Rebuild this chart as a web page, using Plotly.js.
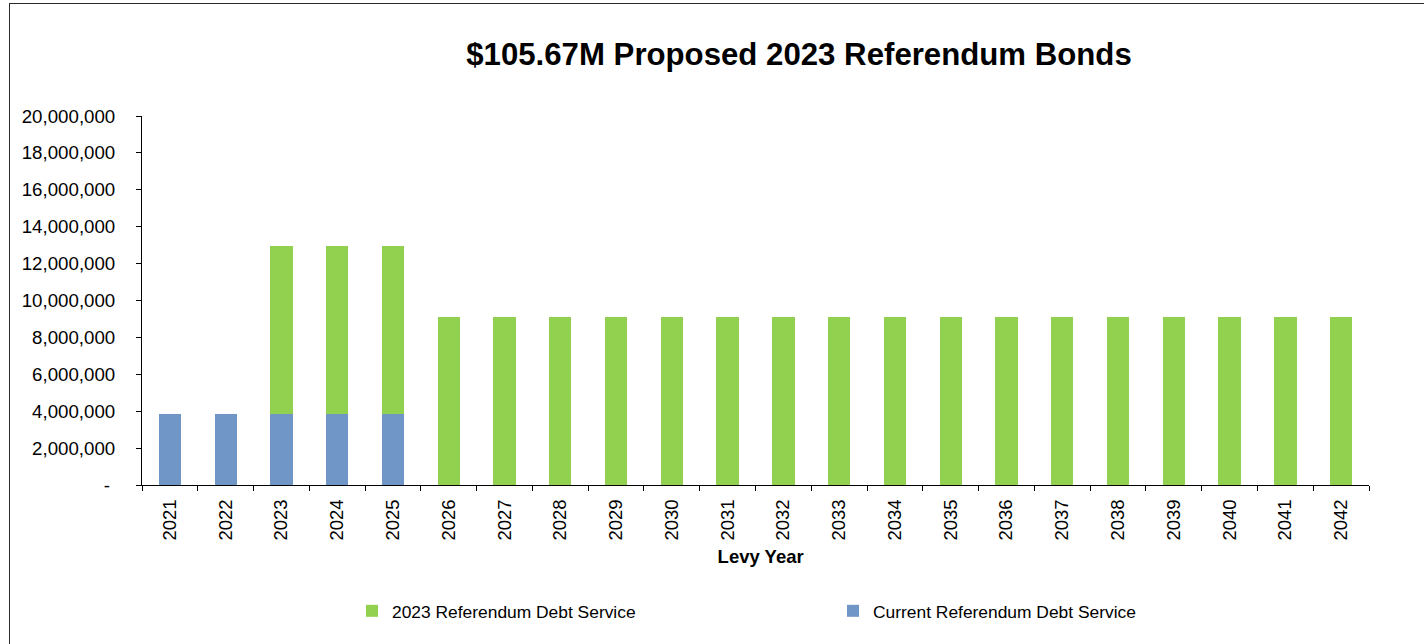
<!DOCTYPE html>
<html>
<head>
<meta charset="utf-8">
<script src="https://cdn.plot.ly/plotly-3.0.1.min.js"></script>
<style>
  html, body { margin: 0; padding: 0; background: #fff; overflow: hidden; }
  #chart { width: 1424px; height: 644px; position: absolute; left: 0; top: 0; }
  #frame { position: absolute; left: 9px; top: 3px; width: 2000px; height: 2000px;
           border: 1.5px solid #2a2a2a; pointer-events: none; }
</style>
</head>
<body>
<div id="chart"></div>
<div id="frame"></div>
<script>
const years = ['2021','2022','2023','2024','2025','2026','2027','2028','2029','2030','2031',
               '2032','2033','2034','2035','2036','2037','2038','2039','2040','2041','2042'];
const currentDebt = [3845000,3845000,3845000,3845000,3845000,0,0,0,0,0,0,
                     0,0,0,0,0,0,0,0,0,0,0];
const referendum2023 = [0,0,9130000,9130000,9130000,9130000,9130000,9130000,9130000,9130000,9130000,
                        9130000,9130000,9130000,9130000,9130000,9130000,9130000,9130000,9130000,9130000,9130000];
const yTickVals = [0,2000000,4000000,6000000,8000000,10000000,12000000,14000000,16000000,18000000,20000000];
const yTickText = ['-\u00a0','2,000,000','4,000,000','6,000,000','8,000,000','10,000,000',
                   '12,000,000','14,000,000','16,000,000','18,000,000','20,000,000'];

const FONT = 'Liberation Sans, Arial, sans-serif';

const traces = [
  { type: 'bar', name: 'Current Referendum Debt Service', x: years, y: currentDebt,
    marker: { color: '#7096C8', line: { width: 0 } }, legend: 'legend2' },
  { type: 'bar', name: '2023 Referendum Debt Service', x: years, y: referendum2023,
    marker: { color: '#92D050', line: { width: 0 } }, legend: 'legend' }
];

const W = 1424, H = 644;
const layout = {
  width: W, height: H,
  paper_bgcolor: '#fff', plot_bgcolor: '#fff',
  margin: { l: 142, r: 55, t: 116, b: 159, pad: 0 },
  barmode: 'stack',
  bargap: 0.6,
  font: { family: FONT, color: '#000' },
  title: {
    text: '<b>$105.67M Proposed 2023 Referendum Bonds</b>',
    font: { family: FONT, size: 31.2, color: '#000' },
    x: 799 / W, xref: 'container', xanchor: 'center',
    y: 1 - 54 / H, yref: 'container', yanchor: 'middle'
  },
  xaxis: {
    type: 'category',
    tickangle: -90,
    tickson: 'boundaries',
    ticks: 'outside', ticklen: 5, tickcolor: '#000', tickwidth: 1,
    showline: true, linecolor: '#000', linewidth: 1,
    showgrid: false, zeroline: false,
    tickfont: { family: FONT, size: 18.5, color: '#000' },
    ticklabelstandoff: 6,
    automargin: false,
    title: { text: '<b>\u00a0\u00a0Levy Year</b>', font: { family: FONT, size: 18.5, color: '#000' }, standoff: 10 }
  },
  yaxis: {
    range: [0, 20000000],
    tickmode: 'array', tickvals: yTickVals, ticktext: yTickText,
    ticks: 'outside', ticklen: 5, tickcolor: '#000', tickwidth: 1,
    showline: true, linecolor: '#000', linewidth: 1,
    showgrid: false, zeroline: false,
    tickfont: { family: FONT, size: 18.7, color: '#000' },
    ticklabelstandoff: 17,
    automargin: false
  },
  legend: {
    orientation: 'h', xref: 'container', yref: 'container',
    x: 352 / W, xanchor: 'left', y: 1 - 611 / H, yanchor: 'middle',
    font: { family: FONT, size: 17.4, color: '#000' },
    bgcolor: 'rgba(0,0,0,0)', borderwidth: 0
  },
  legend2: {
    orientation: 'h', xref: 'container', yref: 'container',
    x: 833 / W, xanchor: 'left', y: 1 - 611 / H, yanchor: 'middle',
    font: { family: FONT, size: 17.4, color: '#000' },
    bgcolor: 'rgba(0,0,0,0)', borderwidth: 0
  },
  showlegend: true
};

Plotly.newPlot('chart', traces, layout, { staticPlot: true, displayModeBar: false });
</script>
</body>
</html>
